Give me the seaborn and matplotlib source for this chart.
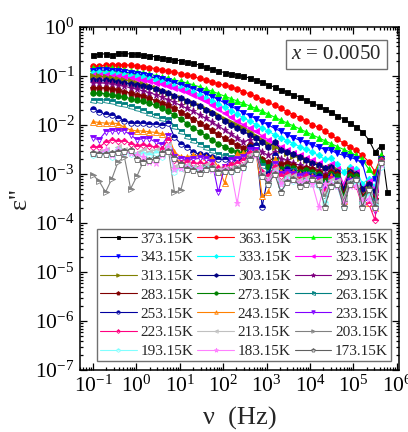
import numpy as np
import pandas as pd
import matplotlib
matplotlib.use('Agg')
import matplotlib.pyplot as plt
import seaborn as sns
from matplotlib.ticker import LogLocator, NullFormatter

# measurement frequencies (Hz)
freq = [0.1, 0.139, 0.194, 0.271, 0.378, 0.527, 0.734, 1.02, 1.43, 1.99,
        2.77, 3.86, 5.39, 7.51, 10.5, 14.6, 20.4, 28.4, 39.6, 55.2,
        76.9, 107, 150, 208, 291, 405, 565, 787, 1100, 1530,
        2130, 2970, 4150, 5780, 8060, 11200, 15700, 21800, 30400, 42500,
        59200, 82400, 115000, 160000, 224000, 312000, 434000, 605000]

# log10(eps''), one list per temperature
eps_373 = [-0.58, -0.55, -0.55, -0.57, -0.54, -0.54, -0.55, -0.56, -0.58, -0.59,
           -0.61, -0.63, -0.65, -0.67, -0.69, -0.72, -0.74, -0.78, -0.82, -0.86,
           -0.90, -0.93, -0.96, -0.98, -1.01, -1.04, -1.08, -1.13, -1.18, -1.23,
           -1.28, -1.33, -1.38, -1.43, -1.49, -1.55, -1.61, -1.67, -1.74, -1.81,
           -1.88, -1.96, -2.04, -2.14, -2.30, -2.55, -2.42, -3.37]
eps_363 = [-0.80, -0.79, -0.78, -0.77, -0.77, -0.77, -0.78, -0.79, -0.81, -0.83,
           -0.85, -0.87, -0.90, -0.92, -0.95, -0.98, -1.01, -1.05, -1.08, -1.12,
           -1.16, -1.19, -1.22, -1.27, -1.32, -1.37, -1.42, -1.48, -1.54, -1.60,
           -1.66, -1.73, -1.79, -1.85, -1.92, -1.99, -2.05, -2.13, -2.21, -2.29,
           -2.37, -2.45, -2.52, -2.62, -2.75, -2.95, -2.65]
eps_353 = [-0.84, -0.83, -0.83, -0.84, -0.85, -0.87, -0.89, -0.91, -0.93, -0.96,
           -0.99, -1.02, -1.05, -1.08, -1.11, -1.14, -1.18, -1.22, -1.27, -1.31,
           -1.36, -1.41, -1.46, -1.51, -1.56, -1.61, -1.66, -1.72, -1.78, -1.84,
           -1.90, -1.96, -2.02, -2.08, -2.14, -2.20, -2.26, -2.32, -2.38, -2.44,
           -2.50, -2.55, -2.62, -2.70, -2.90, -3.05, -2.62]
eps_343 = [-0.89, -0.88, -0.88, -0.89, -0.90, -0.92, -0.94, -0.96, -0.98, -1.01,
           -1.04, -1.07, -1.10, -1.14, -1.18, -1.22, -1.26, -1.31, -1.36, -1.42,
           -1.48, -1.55, -1.62, -1.68, -1.75, -1.81, -1.87, -1.94, -2.00, -2.07,
           -2.13, -2.20, -2.26, -2.31, -2.36, -2.41, -2.45, -2.50, -2.52, -2.58,
           -2.62, -2.66, -2.70, -2.78, -3.25, -3.10, -2.70]
eps_333 = [-0.93, -0.92, -0.93, -0.94, -0.95, -0.97, -0.99, -1.01, -1.03, -1.06,
           -1.09, -1.12, -1.16, -1.20, -1.24, -1.28, -1.33, -1.38, -1.44, -1.50,
           -1.57, -1.64, -1.71, -1.78, -1.85, -1.92, -1.99, -2.06, -2.13, -2.20,
           -2.26, -2.32, -2.38, -2.44, -2.49, -2.55, -2.62, -2.70, -2.68, -2.80,
           -2.95, -2.85, -2.90, -3.20, -3.10, -3.25, -2.75]
eps_323 = [-0.98, -0.97, -0.98, -0.99, -1.00, -1.02, -1.04, -1.06, -1.08, -1.11,
           -1.14, -1.17, -1.20, -1.24, -1.28, -1.33, -1.38, -1.45, -1.52, -1.60,
           -1.68, -1.76, -1.84, -1.92, -1.99, -2.06, -2.13, -2.22, -2.30, -2.38,
           -2.44, -2.52, -2.58, -2.62, -2.68, -2.72, -2.78, -2.85, -2.80, -2.90,
           -3.20, -2.90, -2.95, -3.30, -3.15, -3.30, -2.72]
eps_313 = [-1.01, -1.01, -1.02, -1.04, -1.06, -1.08, -1.11, -1.14, -1.17, -1.21,
           -1.25, -1.30, -1.35, -1.40, -1.45, -1.50, -1.55, -1.61, -1.67, -1.73,
           -1.80, -1.87, -1.93, -2.00, -2.07, -2.14, -2.22, -2.30, -2.38, -2.45,
           -2.52, -2.58, -2.63, -2.68, -2.72, -2.78, -2.82, -2.88, -2.85, -2.92,
           -3.30, -2.92, -3.00, -3.35, -3.20, -3.40, -2.78]
eps_303 = [-1.08, -1.08, -1.09, -1.10, -1.12, -1.14, -1.16, -1.18, -1.20, -1.23,
           -1.27, -1.31, -1.35, -1.40, -1.45, -1.50, -1.56, -1.62, -1.69, -1.76,
           -1.83, -1.91, -1.99, -2.06, -2.13, -2.20, -2.27, -2.35, -2.45, -2.35,
           -2.50, -2.55, -2.60, -2.65, -2.72, -2.78, -2.82, -2.88, -2.85, -2.95,
           -3.30, -2.95, -3.00, -3.30, -3.20, -3.35, -2.72]
eps_293 = [-1.14, -1.14, -1.15, -1.17, -1.19, -1.21, -1.24, -1.27, -1.30, -1.34,
           -1.38, -1.43, -1.48, -1.54, -1.60, -1.66, -1.72, -1.79, -1.86, -1.94,
           -2.02, -2.10, -2.18, -2.26, -2.34, -2.30, -2.42, -2.55, -2.62, -2.55,
           -2.70, -2.72, -2.78, -2.82, -2.85, -2.88, -2.92, -3.00, -2.92, -3.00,
           -3.40, -3.00, -3.05, -3.45, -3.30, -3.45, -2.75]
eps_283 = [-1.24, -1.24, -1.25, -1.27, -1.29, -1.32, -1.35, -1.38, -1.41, -1.45,
           -1.50, -1.55, -1.60, -1.66, -1.73, -1.80, -1.87, -1.95, -2.03, -2.11,
           -2.19, -2.27, -2.33, -2.40, -2.46, -2.40, -2.45, -2.70, -2.75, -2.65,
           -2.80, -2.78, -2.82, -2.88, -2.88, -2.90, -2.95, -3.05, -2.95, -3.00,
           -3.40, -3.00, -3.05, -3.45, -3.30, -3.50, -2.72]
eps_273 = [-1.35, -1.35, -1.36, -1.38, -1.40, -1.43, -1.46, -1.49, -1.52, -1.56,
           -1.60, -1.66, -1.72, -1.80, -1.88, -1.97, -2.06, -2.14, -2.22, -2.30,
           -2.38, -2.44, -2.50, -2.55, -2.58, -2.45, -2.40, -2.75, -2.85, -2.70,
           -2.90, -2.85, -2.88, -2.95, -2.92, -2.95, -3.00, -3.15, -3.00, -3.05,
           -3.45, -3.05, -3.05, -3.50, -3.30, -3.55, -2.70]
eps_263 = [-1.48, -1.48, -1.49, -1.52, -1.55, -1.58, -1.62, -1.66, -1.70, -1.75,
           -1.80, -1.86, -1.88, -2.02, -2.12, -2.22, -2.30, -2.38, -2.45, -2.52,
           -2.60, -2.62, -2.66, -2.68, -2.65, -2.52, -2.48, -2.82, -2.95, -2.75,
           -2.95, -2.90, -2.92, -3.00, -2.98, -3.00, -3.05, -3.20, -3.05, -3.10,
           -3.50, -3.10, -3.10, -3.50, -3.35, -3.55, -2.72]
eps_253 = [-1.67, -1.74, -1.78, -1.80, -1.85, -1.92, -1.95, -1.96, -1.96, -1.97,
           -1.98, -2.00, -1.95, -2.25, -2.38, -2.45, -2.55, -2.60, -2.62, -2.65,
           -2.70, -2.70, -2.72, -2.72, -2.70, -2.45, -2.40, -3.67, -3.00, -2.62,
           -2.95, -2.90, -2.95, -3.00, -3.00, -3.05, -3.05, -3.25, -3.05, -3.15,
           -3.55, -3.10, -3.15, -3.55, -3.40, -3.60, -2.75]
eps_243 = [-1.93, -1.95, -1.96, -1.96, -1.97, -2.05, -2.10, -2.12, -2.12, -2.14,
           -2.15, -2.18, -2.20, -2.55, -2.65, -2.65, -2.62, -2.62, -2.65, -2.68,
           -2.85, -3.18, -2.75, -2.60, -2.58, -2.55, -2.55, -3.45, -3.37, -2.70,
           -2.95, -2.95, -2.95, -3.00, -3.00, -3.05, -3.10, -3.30, -3.05, -3.15,
           -3.55, -3.10, -3.20, -3.55, -3.60, -3.70, -2.75]
eps_233 = [-2.27, -2.30, -2.14, -2.12, -2.13, -2.12, -2.20, -2.30, -2.28, -2.28,
           -2.35, -2.40, -2.22, -2.65, -2.70, -2.72, -2.70, -2.68, -2.70, -2.75,
           -3.37, -2.85, -2.72, -2.70, -2.65, -2.52, -2.50, -3.00, -3.10, -2.80,
           -3.00, -2.95, -3.00, -3.05, -3.02, -3.08, -3.10, -3.30, -3.10, -3.15,
           -3.60, -3.15, -3.20, -3.60, -3.50, -3.75, -2.75]
eps_223 = [-2.44, -2.45, -2.35, -2.30, -2.33, -2.32, -2.38, -2.42, -2.40, -2.43,
           -2.45, -2.48, -2.30, -2.72, -2.78, -2.75, -2.78, -2.78, -2.80, -2.82,
           -2.88, -2.85, -2.82, -2.78, -2.72, -2.58, -2.55, -2.95, -3.05, -2.85,
           -3.05, -3.00, -3.05, -3.10, -3.05, -3.10, -3.15, -3.35, -3.10, -3.20,
           -3.55, -3.20, -3.25, -3.65, -3.60, -3.94, -2.72]
eps_213 = [-2.60, -2.55, -2.50, -2.62, -2.45, -2.50, -2.55, -2.58, -2.52, -2.55,
           -2.50, -2.60, -2.40, -2.85, -2.90, -2.82, -2.85, -2.85, -2.82, -2.85,
           -2.92, -2.90, -2.88, -2.85, -2.80, -2.62, -2.58, -3.00, -3.10, -2.90,
           -3.15, -3.05, -3.05, -3.12, -3.08, -3.12, -3.15, -3.40, -3.12, -3.15,
           -3.50, -3.15, -3.20, -3.50, -3.40, -3.60, -2.78]
eps_203 = [-3.02, -3.15, -3.37, -3.10, -2.75, -2.65, -3.30, -3.05, -2.75, -2.70,
           -2.62, -2.60, -2.48, -3.37, -3.33, -2.85, -2.88, -2.90, -2.86, -2.88,
           -2.95, -2.92, -2.92, -2.88, -2.85, -2.68, -2.60, -3.05, -3.15, -2.95,
           -3.20, -3.10, -3.10, -3.20, -3.12, -3.15, -3.20, -3.45, -3.20, -3.20,
           -3.55, -3.20, -3.15, -3.55, -3.40, -3.60, -2.80]
eps_193 = [-2.62, -2.60, -2.55, -2.65, -2.52, -2.55, -2.60, -2.62, -2.60, -2.62,
           -2.58, -2.65, -2.45, -2.95, -2.88, -2.85, -2.90, -2.92, -2.88, -2.90,
           -2.95, -2.92, -2.95, -2.90, -2.88, -2.70, -2.60, -3.05, -3.20, -2.95,
           -3.25, -3.10, -3.15, -3.20, -3.15, -3.20, -3.25, -3.60, -3.20, -3.25,
           -3.67, -3.20, -3.20, -3.60, -3.45, -3.65, -2.85]
eps_183 = [-2.58, -2.58, -2.52, -2.62, -2.50, -2.55, -2.58, -2.62, -2.65, -2.75,
           -2.78, -2.62, -2.45, -2.90, -2.88, -2.85, -2.90, -2.88, -2.90, -2.92,
           -2.95, -2.90, -2.92, -3.60, -2.85, -2.68, -2.62, -3.05, -3.15, -2.95,
           -3.20, -3.12, -3.12, -3.18, -3.15, -3.20, -3.67, -3.20, -3.20, -3.25,
           -3.60, -3.25, -3.25, -3.55, -3.50, -3.70, -2.80]
eps_173 = [-2.57, -2.59, -2.59, -2.57, -2.55, -2.54, -2.50, -2.69, -2.76, -2.72,
           -2.70, -2.57, -2.53, -2.68, -2.80, -2.90, -2.92, -2.97, -2.90, -2.88,
           -2.95, -2.93, -2.93, -2.90, -2.86, -2.70, -2.57, -3.05, -3.20, -3.00,
           -3.37, -3.16, -3.10, -3.25, -3.20, -3.10, -3.20, -3.67, -3.25, -3.20,
           -3.67, -3.20, -3.10, -3.67, -3.30, -3.67, -2.75]

series = [eps_373, eps_363, eps_353, eps_343, eps_333, eps_323, eps_313,
          eps_303, eps_293, eps_283, eps_273, eps_263, eps_253, eps_243,
          eps_233, eps_223, eps_213, eps_203, eps_193, eps_183, eps_173]
labels = ['373.15K', '363.15K', '353.15K', '343.15K', '333.15K', '323.15K',
          '313.15K', '303.15K', '293.15K', '283.15K', '273.15K', '263.15K',
          '253.15K', '243.15K', '233.15K', '223.15K', '213.15K', '203.15K',
          '193.15K', '183.15K', '173.15K']
colors = ['#000000', '#FF0000', '#00FF00', '#0000FF', '#00FFFF', '#FF00FF',
          '#808000', '#000080', '#800080', '#800000', '#008000', '#008080',
          '#0000A0', '#FF8000', '#8000FF', '#FF0080', '#C0C0C0', '#808080',
          '#80FFFF', '#FF80FF', '#606060']
markers = ['s', 'o', '^', 'v', 'D', '<', '>', 'h', '*', 'p',
           'o', 's', 'o', '^', 'v', 'D', '<', '>', 'h', '*', 'p']
msizes = {'s': 3.6, 'o': 4.0, '^': 4.2, 'v': 4.2, 'D': 3.3, '<': 4.2,
          '>': 4.2, 'h': 4.3, '*': 5.2, 'p': 4.5}

sns.set_style('ticks')
plt.rcParams['font.family'] = ['Liberation Serif', 'DejaVu Serif']
plt.rcParams['mathtext.fontset'] = 'custom'
plt.rcParams['mathtext.rm'] = 'Liberation Serif'
plt.rcParams['mathtext.it'] = 'Liberation Serif:italic'
plt.rcParams['axes.linewidth'] = 1.1
plt.rcParams['axes.edgecolor'] = 'black'

fig = plt.figure(figsize=(4.08, 4.32), dpi=100)
ax = fig.add_axes([0.196, 0.1435, 0.782, 0.794])

for i, (lab, vals) in enumerate(zip(labels, series)):
    n = len(vals)
    df = pd.DataFrame({'freq': freq[:n], 'eps': 10.0 ** np.array(vals)})
    sns.lineplot(data=df, x='freq', y='eps', ax=ax, sort=False, estimator=None,
                 color=colors[i], marker=markers[i], markersize=msizes[markers[i]],
                 markeredgecolor=colors[i], markeredgewidth=0.6,
                 fillstyle='full' if i < 11 else 'top', markerfacecoloralt='white',
                 linewidth=0.8, label=lab)

ax.set_xscale('log')
ax.set_yscale('log')
ax.set_xlim(0.05, 1.12e6)
ax.set_ylim(1e-7, 1)
for axis in (ax.xaxis, ax.yaxis):
    axis.set_major_locator(LogLocator(base=10, numticks=20))
    axis.set_minor_locator(LogLocator(base=10, subs=np.arange(2, 10), numticks=100))
    axis.set_minor_formatter(NullFormatter())
ax.tick_params(which='both', direction='in', top=True, right=True, width=0.9,
               labelsize=15.5, colors='black')
ax.tick_params(which='major', length=5, pad=4)
ax.tick_params(which='minor', length=2.5)

ax.set_xlabel('ν  (Hz)', fontsize=19, labelpad=7)
ax.set_ylabel("ε''", fontsize=19, labelpad=3)

ax.text(0.804, 0.92, '$x$ = 0.0050', transform=ax.transAxes, ha='center', va='center',
        fontsize=15, bbox=dict(boxstyle='square,pad=0.25', fc='white', ec='#707070', lw=1))

# legend filled row by row (matplotlib fills columns first)
handles, labs = ax.get_legend_handles_labels()
order = [r * 3 + c for c in range(3) for r in range(7)]
leg = ax.legend([handles[k] for k in order], [labs[k] for k in order], ncol=3,
                loc='lower left', bbox_to_anchor=(0.053, 0.026), fontsize=11,
                markerscale=0.6, handlelength=2.4, handletextpad=0.25,
                columnspacing=0.25, labelspacing=0.33, borderpad=0.2, borderaxespad=0,
                frameon=True, fancybox=False, edgecolor='#707070', framealpha=1)
leg.get_frame().set_linewidth(1.0)

fig.savefig('out.png', dpi=100)
